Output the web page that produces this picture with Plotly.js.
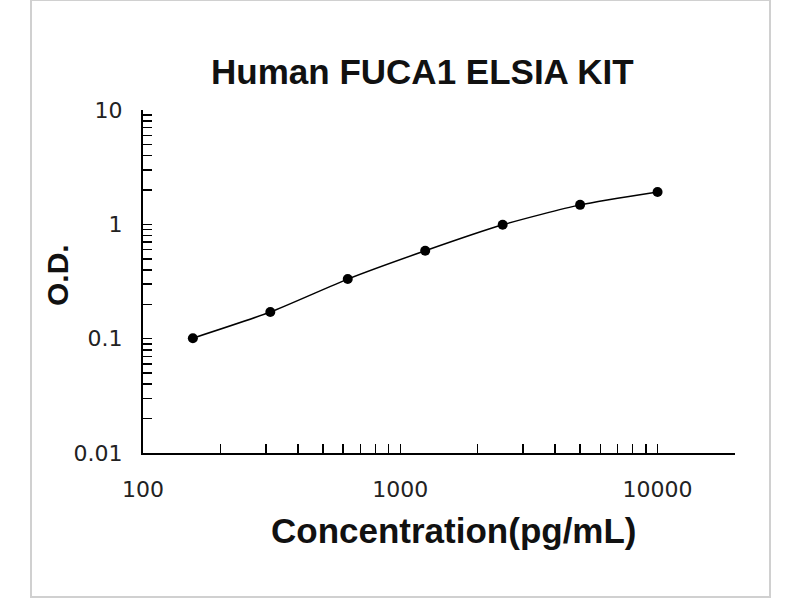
<!DOCTYPE html>
<html>
<head>
<meta charset="utf-8">
<script src="https://cdn.plot.ly/plotly-3.0.1.min.js"></script>
<style>
html,body{margin:0;padding:0;background:#fff;}
#wrap{position:relative;width:800px;height:600px;}
#chart{position:absolute;left:0;top:0;width:800px;height:600px;}
#frame{position:absolute;left:30px;top:0px;width:737px;height:595px;border:2px solid #d0d0d0;border-top-width:1px;pointer-events:none;}
</style>
</head>
<body>
<div id="wrap"><div id="chart"></div><div id="frame"></div></div>
<script>
const concentration = [156.25, 312.5, 625, 1250, 2500, 5000, 10000];
const od = [0.101, 0.171, 0.332, 0.587, 0.99, 1.48, 1.92];

const xTickVals = [100,200,300,400,500,600,700,800,900,1000,2000,3000,4000,5000,6000,7000,8000,9000,10000,20000];
const xTickText = ['100','','','','','','','','','1000','','','','','','','','','10000',''];
const yTickVals = [0.01,0.02,0.03,0.04,0.05,0.06,0.07,0.08,0.09,0.1,0.2,0.3,0.4,0.5,0.6,0.7,0.8,0.9,1,2,3,4,5,6,7,8,9,10];
const yTickText = ['0.01','','','','','','','','','0.1','','','','','','','','','1','','','','','','','','','10'];

const titleText = 'Human FUCA1 ELSIA KIT';
const xTitle = 'Concentration(pg/mL)';
const yTitle = 'O.D.';

const trace = {
  x: concentration, y: od, type: 'scatter', mode: 'lines+markers',
  line: {color: '#000', width: 1.5, shape: 'spline', smoothing: 0.6},
  marker: {color: '#000', size: 10},
  hoverinfo: 'x+y'
};

const boldFont = {family: 'Liberation Sans, Arial, sans-serif', color: '#111'};

const layout = {
  width: 800, height: 600,
  margin: {l: 143, r: 65, t: 110, b: 147},
  paper_bgcolor: 'rgba(0,0,0,0)', plot_bgcolor: '#fff',
  showlegend: false,
  title: {text: '<b>' + titleText + '</b>', x: 0.528, xanchor: 'center', y: 0.88, yanchor: 'middle',
          font: Object.assign({size: 35}, boldFont)},
  xaxis: {
    type: 'log', range: [2, Math.log10(20000)],
    tickmode: 'array', tickvals: xTickVals, ticktext: xTickText,
    ticks: 'inside', ticklen: 9, tickwidth: 1.5, tickcolor: '#000',
    showline: true, linecolor: '#000', linewidth: 2, showgrid: false, zeroline: false,
    tickfont: {family: 'DejaVu Sans, sans-serif', size: 22, color: '#222'},
    ticklabelstandoff: 16
  },
  yaxis: {
    type: 'log', range: [-2, 1],
    tickmode: 'array', tickvals: yTickVals, ticktext: yTickText,
    ticks: 'inside', ticklen: 9, tickwidth: 1.5, tickcolor: '#000',
    showline: true, linecolor: '#000', linewidth: 2, showgrid: false, zeroline: false,
    tickfont: {family: 'DejaVu Sans, sans-serif', size: 22, color: '#222'},
    ticklabelstandoff: 14
  },
  annotations: [
    {text: '<b>' + xTitle + '</b>', xref: 'paper', yref: 'paper', x: 0.525, y: -0.2245,
     xanchor: 'center', yanchor: 'middle', showarrow: false, font: Object.assign({size: 35}, boldFont)},
    {text: '<b>' + yTitle + '</b>', xref: 'paper', yref: 'paper', x: -0.1436, y: 0.519,
     xanchor: 'center', yanchor: 'middle', textangle: -90, showarrow: false, font: Object.assign({size: 30}, boldFont)}
  ]
};

Plotly.newPlot('chart', [trace], layout, {displayModeBar: false, staticPlot: true});
</script>
</body>
</html>
